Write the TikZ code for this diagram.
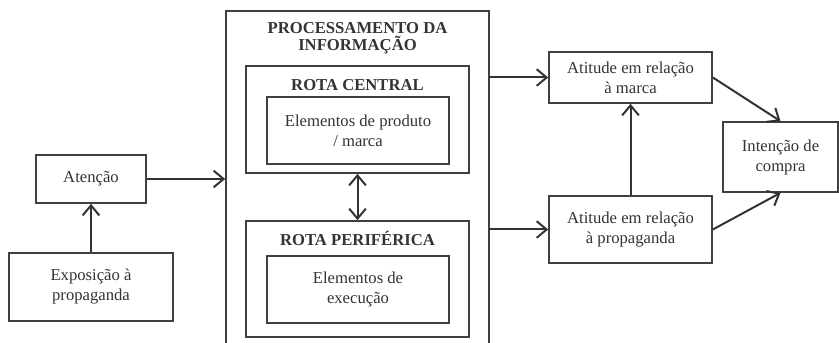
\documentclass[tikz,border=0pt]{standalone}
\usepackage{fontspec}
\setmainfont{Liberation Serif}
\usetikzlibrary{arrows.meta}

\begin{document}
\begin{tikzpicture}[x=0.6pt, y=-0.6pt,
  every node/.style={text=black!80},
  box/.style={draw=black!75, line width=1pt, align=center, inner sep=0pt},
  rotulo/.style={font=\bfseries, align=center, inner sep=0pt}]

\useasboundingbox (0,0) rectangle (839,343);

\node[box, minimum width=66pt, minimum height=28.8pt] (aten) at (91,179) {Atenção};
\node[box, minimum width=98.4pt, minimum height=40.8pt] (expo) at (91,287) {Exposição à\\propaganda};

\node[box, minimum width=157.8pt, minimum height=209.4pt] (proc) at (357.5,185.5) {};
\node[rotulo] (titulo) at (357.5,38) {PROCESSAMENTO DA\\[-2pt]INFORMAÇÃO};

\node[box, minimum width=133.8pt, minimum height=64.2pt] (central) at (357.5,119.5) {};
\node[rotulo] (tcentral) at (357.5,85) {ROTA CENTRAL};
\node[box, minimum width=109.2pt, minimum height=40.2pt] (prod) at (358,130.5) {Elementos de produto\\/ marca};

\node[box, minimum width=133.8pt, minimum height=69.6pt] (perif) at (357.5,279) {};
\node[rotulo] (tperif) at (357.5,238) {ROTA PERIFÉRICA};
\node[box, minimum width=109.2pt, minimum height=40.2pt] (exec) at (358,289.5) {Elementos de\\execução};

\node[box, minimum width=97.8pt, minimum height=30.6pt] (marca) at (630.5,77.5) {Atitude em relação\\à marca};
\node[box, minimum width=97.8pt, minimum height=40.2pt] (propag) at (630.5,229.5) {Atitude em relação\\à propaganda};
\node[box, minimum width=69pt, minimum height=42pt] (intencao) at (780.5,157) {Intenção de\\compra};

\begin{scope}[line width=1.2pt, draw=black!80, >={Straight Barb[length=6pt,width=10pt]}, ->]
\draw (expo.north) -- (aten.south); %expo-aten
\draw (aten.east) -- (aten.east -| proc.west); %aten-proc
\draw[<->] (central.south) -- (perif.north); %central-perif
\draw (marca.west -| proc.east) -- (marca.west); %proc-marca
\draw (propag.west -| proc.east) -- (propag.west); %proc-propag
\draw (propag.north) -- (marca.south); %propag-marca
\draw (marca.east) -- (intencao.north); %marca-intencao
\draw (propag.east) -- (intencao.south); %propag-intencao
\end{scope}

\end{tikzpicture}
\end{document}
